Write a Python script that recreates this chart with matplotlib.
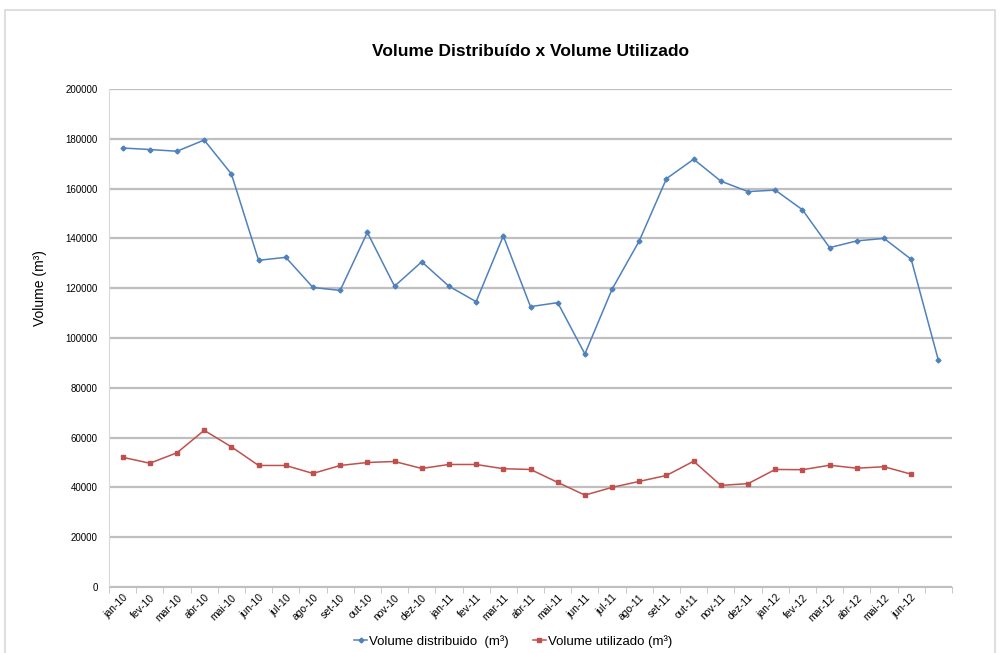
import matplotlib
matplotlib.use('Agg')
import matplotlib.pyplot as plt
from matplotlib.patches import Rectangle
import numpy as np

plt.rcParams['font.family'] = ['Liberation Sans', 'DejaVu Sans']

# monthly categories (last month has a value but no label on the axis)
meses = ['jan-10', 'fev-10', 'mar-10', 'abr-10', 'mai-10', 'jun-10', 'jul-10', 'ago-10',
         'set-10', 'out-10', 'nov-10', 'dez-10', 'jan-11', 'fev-11', 'mar-11', 'abr-11',
         'mai-11', 'jun-11', 'jul-11', 'ago-11', 'set-11', 'out-11', 'nov-11', 'dez-11',
         'jan-12', 'fev-12', 'mar-12', 'abr-12', 'mai-12', 'jun-12', '']

vol_distribuido = [176300, 175700, 175000, 179500, 165900, 131200, 132400, 120300,
                   119100, 142400, 120800, 130600, 120800, 114600, 141000, 112600,
                   114200, 93600, 119600, 139000, 164000, 171800, 163000, 158800,
                   159400, 151500, 136300, 139000, 140000, 131600, 91000]

vol_utilizado = [52100, 49700, 53900, 62900, 56300, 48800, 48800, 45600,
                 48800, 50000, 50400, 47600, 49200, 49200, 47500, 47200,
                 42000, 36900, 40000, 42400, 44800, 50500, 40800, 41500,
                 47200, 47100, 48900, 47700, 48300, 45300]

azul = '#4F81BD'
vermelho = '#C0504D'
cinza = '#BFBFBF'

fig = plt.figure(figsize=(10, 6.53), dpi=100)
fig.patches.append(Rectangle((0.005, -0.01), 0.99, 1 - 10 / 653 + 0.01,
                             transform=fig.transFigure, fill=False,
                             edgecolor='#D9D9D9', linewidth=1.2))
ax = fig.add_axes([0.109, 0.1011, 0.843, 0.7626])

x = np.arange(len(meses))
ax.plot(x, vol_distribuido, color=azul, linewidth=1.1, marker='D', markersize=2.5,
        label='Volume distribuido  (m³)', zorder=3)
ax.plot(np.arange(len(vol_utilizado)), vol_utilizado, color=vermelho, linewidth=1.1,
        marker='s', markersize=3, label='Volume utilizado (m³)', zorder=3)

ax.set_xlim(-0.5, len(meses) - 0.5)
ax.set_ylim(0, 200000)
ax.set_yticks(np.arange(0, 200001, 20000))
ax.yaxis.grid(True, color=cinza, linewidth=1.6)
ax.set_axisbelow(True)

ax.set_xticks(x)
ax.set_xticklabels(meses, rotation=45, ha='right', rotation_mode='anchor', fontsize=7.5)
ax.set_xticks(np.arange(-0.5, len(meses)), minor=True)
ax.tick_params(axis='x', which='major', length=0, pad=4)
ax.tick_params(axis='x', which='minor', length=4, color=cinza)
ax.tick_params(axis='y', length=0, labelsize=7, pad=8)

for s in ['top', 'right']:
    ax.spines[s].set_visible(False)
ax.spines['left'].set_color('#D9D9D9')
ax.spines['bottom'].set_color(cinza)

ax.set_ylabel('Volume (m³)', fontsize=10)
ax.yaxis.set_label_coords(-0.073, 0.6)
ax.set_title('Volume Distribuído x Volume Utilizado', fontsize=12.5, fontweight='bold', pad=24)

fig.legend(loc='lower center', bbox_to_anchor=(0.513, -0.01), ncol=2, frameon=False,
           fontsize=9.5, handlelength=1.0, handletextpad=0.15, columnspacing=1.8)

fig.savefig('out.png', dpi=100)
